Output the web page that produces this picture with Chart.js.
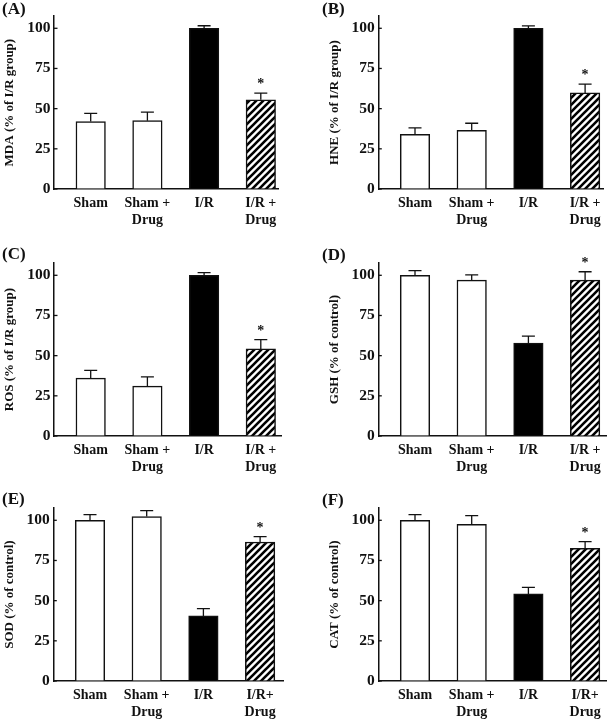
<!DOCTYPE html>
<html>
<head>
<meta charset="utf-8">
<script src="https://cdn.jsdelivr.net/npm/chart.js@4.4.1/dist/chart.umd.min.js"></script>
<style>
  html, body { margin: 0; padding: 0; background: #fff; }
  #wrap { position: relative; width: 609px; height: 721px; }
  .panel { position: absolute; }
</style>
</head>
<body>
<div id="wrap"></div>
<script>
// groups on the x axis
const categories = [['Sham'], ['Sham +', 'Drug'], ['I/R'], ['I/R +', 'Drug']]
const categoriesEF = [['Sham'], ['Sham +', 'Drug'], ['I/R'], ['I/R+', 'Drug']]
const yTicks = [0, 25, 50, 75, 100]
const significant = [false, false, false, true]

// means and upper error (SEM)
const mdaMean = [42, 42.5, 100, 55.5]
const mdaErr = [5, 5.3, 1.6, 4.2]
const hneMean = [34, 36.5, 100, 59.8]
const hneErr = [4, 4.4, 1.5, 5.5]
const rosMean = [36, 31, 100, 54.2]
const rosErr = [4.8, 5.8, 1.7, 5.8]
const gshMean = [100, 97, 57.8, 97]
const gshErr = [2.9, 3.3, 4.4, 5.2]
const sodMean = [100, 102.3, 40.5, 86.5]
const sodErr = [3.5, 3.7, 4.5, 3.3]
const catMean = [100, 97.5, 54.2, 82.6]
const catErr = [3.5, 5.4, 4, 4.1]

const FONT = "'Liberation Serif', 'Times New Roman', serif"
const INK = '#111'

// hatch for the I/R + Drug bars
function hatch() {
    const s = 7
    const c = document.createElement('canvas')
    c.width = s; c.height = s
    const g = c.getContext('2d')
    g.fillStyle = '#fff'
    g.fillRect(0, 0, s, s)
    g.strokeStyle = '#000'
    g.lineWidth = 2.6
    g.beginPath()
    g.moveTo(-1, s + 1); g.lineTo(s + 1, -1)
    g.moveTo(-1, 1); g.lineTo(1, -1)
    g.moveTo(s - 1, s + 1); g.lineTo(s + 1, s - 1)
    g.stroke()
    return g.createPattern(c, 'repeat')
}
const stripes = hatch()
const barColors = ['#fff', '#fff', '#000', stripes]

const panels = [
    { tag: '(A)', title: 'MDA (% of I/R group)', mean: mdaMean, err: mdaErr, cats: categories,
      left: 0, top: 0, w: 305, h: 240, axisLeft: 54, axisRight: 278, bottom: 189, padLeft: 0, tagX: 2, tagY: 10 },
    { tag: '(B)', title: 'HNE (% of I/R group)', mean: hneMean, err: hneErr, cats: categories,
      left: 305, top: 0, w: 304, h: 240, axisLeft: 73.3, axisRight: 298, bottom: 189, padLeft: 20, tagX: 17, tagY: 10 },
    { tag: '(C)', title: 'ROS (% of I/R group)', mean: rosMean, err: rosErr, cats: categories,
      left: 0, top: 240, w: 305, h: 240, axisLeft: 54, axisRight: 281.7, bottom: 196, padLeft: 0, tagX: 2, tagY: 15 },
    { tag: '(D)', title: 'GSH (% of control)', mean: gshMean, err: gshErr, cats: categories,
      left: 305, top: 240, w: 304, h: 240, axisLeft: 73.3, axisRight: 301.7, bottom: 196, padLeft: 20, tagX: 17, tagY: 16 },
    { tag: '(E)', title: 'SOD (% of control)', mean: sodMean, err: sodErr, cats: categoriesEF,
      left: 0, top: 480, w: 305, h: 241, axisLeft: 53.3, axisRight: 283.3, bottom: 201, padLeft: 0, tagX: 2, tagY: 20 },
    { tag: '(F)', title: 'CAT (% of control)', mean: catMean, err: catErr, cats: categoriesEF,
      left: 305, top: 480, w: 304, h: 241, axisLeft: 73.3, axisRight: 301.7, bottom: 201, padLeft: 20, tagX: 17, tagY: 21 }
]

const PX_PER_100 = 160.7
const Y_MAX = 107.5
const STEP_PX = 56.7
const FIRST_PX = 36.7

// error bars, asterisks, inward y ticks, panel letter
const decor = {
    id: 'decor',
    afterDatasetsDraw(chart, args, opts) {
        const p = opts.panel
        const { ctx, chartArea } = chart
        const x = chart.scales.x, y = chart.scales.y
        ctx.save()
        ctx.strokeStyle = INK
        ctx.fillStyle = INK
        ctx.lineWidth = 1.3
        p.mean.forEach((m, i) => {
            const px = x.getPixelForValue(i)
            const y0 = y.getPixelForValue(m)
            const y1 = y.getPixelForValue(m + p.err[i])
            ctx.beginPath()
            ctx.moveTo(px, y0); ctx.lineTo(px, y1)
            ctx.moveTo(px - 6.5, y1); ctx.lineTo(px + 6.5, y1)
            ctx.stroke()
            if (significant[i]) {
                ctx.font = 'bold 14px ' + FONT
                ctx.textAlign = 'center'
                ctx.textBaseline = 'alphabetic'
                ctx.fillText('*', px, y1 - 5)
            }
        })
        ctx.lineWidth = 1.3
        y.ticks.forEach(t => {
            const py = y.getPixelForValue(t.value)
            ctx.beginPath()
            ctx.moveTo(chartArea.left, py); ctx.lineTo(chartArea.left + 3.5, py)
            ctx.stroke()
        })
        ctx.font = 'bold 17px ' + FONT
        ctx.textAlign = 'left'
        ctx.textBaseline = 'middle'
        ctx.fillText(p.tag, p.tagX, p.tagY)
        ctx.restore()
    }
}

const wrap = document.getElementById('wrap')

panels.forEach(p => {
    const box = document.createElement('div')
    box.className = 'panel'
    box.style.left = p.left + 'px'
    box.style.top = p.top + 'px'
    box.style.width = p.w + 'px'
    box.style.height = p.h + 'px'
    const cv = document.createElement('canvas')
    box.appendChild(cv)
    wrap.appendChild(box)

    const areaW = p.axisRight - p.axisLeft
    const xMin = -FIRST_PX / STEP_PX
    const xMax = xMin + areaW / STEP_PX
    const topPad = p.bottom - PX_PER_100 * Y_MAX / 100

    new Chart(cv.getContext('2d'), {
        type: 'bar',
        data: {
            datasets: [{
                data: p.mean.map((v, i) => ({ x: i, y: v })),
                backgroundColor: barColors,
                borderColor: INK,
                borderWidth: 1.5,
                borderSkipped: 'bottom',
                barThickness: 29.5
            }]
        },
        options: {
            responsive: true,
            maintainAspectRatio: false,
            animation: false,
            layout: { padding: { left: p.padLeft, top: topPad, right: p.w - p.axisRight, bottom: 0 } },
            plugins: {
                legend: { display: false },
                tooltip: { enabled: false },
                decor: { panel: p }
            },
            scales: {
                x: {
                    type: 'linear',
                    min: xMin,
                    max: xMax,
                    offset: false,
                    grid: { offset: false, drawOnChartArea: false, drawTicks: false },
                    border: { color: INK, width: 1.5 },
                    afterBuildTicks: s => { s.ticks = p.cats.map((_, i) => ({ value: i })) },
                    afterFit: s => { s.height = p.h - p.bottom; s.paddingLeft = 0; s.paddingRight = 0 },
                    ticks: {
                        autoSkip: false,
                        maxRotation: 0,
                        padding: 6,
                        color: INK,
                        font: { family: FONT, size: 14, weight: 'bold', lineHeight: 1.2 },
                        callback: v => p.cats[v]
                    }
                },
                y: {
                    min: 0,
                    max: Y_MAX,
                    grid: { drawOnChartArea: false, drawTicks: false },
                    border: { color: INK, width: 1.5 },
                    afterBuildTicks: s => { s.ticks = yTicks.map(v => ({ value: v })) },
                    afterFit: s => { s.width = p.axisLeft - p.padLeft; s.paddingTop = 0; s.paddingBottom = 0 },
                    ticks: {
                        padding: 3.5,
                        color: INK,
                        font: { family: FONT, size: 15.5, weight: 'bold' }
                    },
                    title: {
                        display: true,
                        text: p.title,
                        color: INK,
                        padding: { top: 2, bottom: 0 },
                        font: { family: FONT, size: 13, weight: 'bold' }
                    }
                }
            }
        },
        plugins: [decor]
    })
})
</script>
</body>
</html>
